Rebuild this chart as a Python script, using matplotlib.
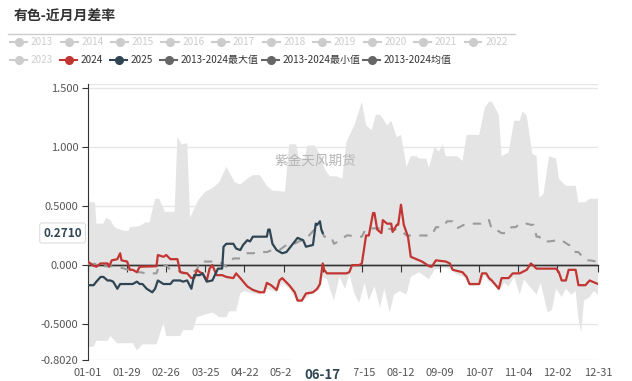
import numpy as np
import matplotlib
matplotlib.use("Agg")
import matplotlib.pyplot as plt
from matplotlib.lines import Line2D
import matplotlib.transforms as mtransforms

plt.rcParams['font.family'] = ['Noto Sans CJK SC', 'DejaVu Sans']

# ---------------- data ----------------
title = "有色-近月月差率"
watermark = "紫金天风期货"

tick_days = [0, 28, 56, 84, 112, 140, 168, 196, 224, 252, 280, 308, 336, 365]
tick_labels = ["01-01", "01-29", "02-26", "03-25", "04-22", "05-20", "06-17",
               "07-15", "08-12", "09-09", "10-07", "11-04", "12-02", "12-31"]
highlight_label = "06-17"
y_ticks = [-0.802, -0.5, 0.0, 0.5, 1.0, 1.5]
y_tick_labels = ["-0.8020", "-0.5000", "0.000", "0.5000", "1.000", "1.500"]
last_value_label = "0.2710"
last_value = 0.271

legend_inactive = ["2013", "2014", "2015", "2016", "2017", "2018", "2019",
                   "2020", "2021", "2022", "2023"]
legend_active = ["2024", "2025", "2013-2024最大值", "2013-2024最小值", "2013-2024均值"]

max_days = [0, 1, 5, 6, 11, 13, 16, 19, 25, 29, 30, 37, 41, 44, 48, 51, 55, 62, 64, 67,
            71, 73, 79, 84, 89, 94, 99, 105, 109, 114, 118, 123, 128, 132, 141, 144, 149, 151, 155, 157,
            162, 167, 169, 173, 178, 182, 185, 191, 196, 199, 203, 206, 209, 211, 214, 217, 221, 224, 228, 231,
            235, 237, 242, 244, 248, 251, 254, 256, 264, 268, 271, 280, 284, 287, 289, 294, 296, 301, 305, 309,
            311, 314, 318, 321, 323, 326, 330, 335, 337, 342, 349, 351, 356, 359, 365]
max_vals = [0.75, 0.53, 0.53, 0.35, 0.35, 0.40, 0.38, 0.32, 0.29, 0.29,
            0.32, 0.33, 0.36, 0.36, 0.56, 0.56, 0.45, 0.45, 1.08, 1.02,
            1.03, 0.40, 0.55, 0.62, 0.65, 0.70, 0.83, 0.70, 0.68, 0.73,
            0.76, 0.76, 0.67, 0.63, 0.62, 1.02, 1.02, 0.90, 0.90, 1.01,
            1.01, 0.92, 0.82, 0.75, 0.75, 0.73, 1.04, 1.19, 1.38, 1.18,
            1.14, 1.27, 1.27, 1.24, 1.18, 1.22, 1.08, 1.10, 0.83, 0.92,
            0.92, 0.90, 0.90, 0.82, 1.00, 0.96, 1.02, 0.92, 0.92, 0.88,
            1.10, 1.10, 1.33, 1.38, 1.38, 1.27, 0.92, 0.95, 1.22, 1.22,
            1.30, 1.26, 0.94, 0.92, 0.57, 0.60, 0.92, 0.90, 0.73, 0.67,
            0.67, 0.53, 0.53, 0.56, 0.56]

min_days = [0, 4, 6, 14, 16, 21, 32, 35, 39, 49, 54, 56, 66, 68, 75, 78, 89, 94, 99, 101,
            106, 109, 112, 118, 123, 128, 135, 139, 144, 150, 153, 159, 164, 166, 168, 171, 176, 180, 184, 187,
            191, 194, 198, 201, 205, 209, 212, 216, 219, 223, 228, 231, 237, 244, 248, 255, 260, 264, 269, 274,
            280, 284, 287, 291, 294, 298, 301, 305, 309, 312, 316, 321, 324, 329, 332, 335, 339, 342, 346, 349,
            351, 353, 355, 359, 362, 365]
min_vals = [-0.69, -0.69, -0.64, -0.64, -0.60, -0.66, -0.66, -0.72, -0.67, -0.67,
            -0.49, -0.60, -0.60, -0.55, -0.55, -0.44, -0.40, -0.44, -0.44, -0.39,
            -0.39, -0.24, -0.22, -0.24, -0.25, -0.20, -0.23, -0.15, -0.20, -0.31,
            -0.31, -0.25, -0.22, -0.20, -0.10, -0.12, -0.30, -0.10, -0.20, -0.08,
            -0.25, -0.32, -0.15, -0.30, -0.18, -0.36, -0.20, -0.40, -0.25, -0.22,
            -0.25, -0.10, -0.06, -0.12, -0.04, -0.02, -0.04, -0.08, -0.10, -0.18,
            -0.17, -0.09, -0.14, -0.17, -0.22, -0.15, -0.18, -0.10, -0.25, -0.12,
            -0.18, -0.25, -0.15, -0.40, -0.38, -0.20, -0.27, -0.20, -0.25, -0.22,
            -0.45, -0.57, -0.30, -0.27, -0.22, -0.25]

mean_days = [0, 6, 9, 20, 29, 32, 37, 42, 49, 51, 56, 58, 64, 68, 73, 78, 80, 94, 99, 104,
             109, 114, 118, 123, 128, 132, 137, 142, 146, 151, 156, 162, 167, 169, 174, 176, 181, 185, 187, 192,
             196, 199, 204, 209, 214, 218, 223, 228, 235, 237, 246, 249, 254, 257, 261, 264, 269, 271, 276, 281,
             284, 287, 289, 292, 296, 300, 303, 306, 309, 314, 317, 319, 321, 323, 325, 330, 336, 339, 344, 346,
             349, 351, 356, 359, 364]
mean_vals = [0.01, 0.01, -0.01, -0.01, -0.04, -0.06, -0.06, -0.07, -0.07, 0.0,
             0.0, -0.03, -0.04, -0.07, -0.07, -0.04, 0.03, 0.03, -0.014, 0.056,
             0.056, 0.10, 0.10, 0.11, 0.11, 0.127, 0.127, 0.17, 0.17, 0.20,
             0.22, 0.30, 0.30, 0.24, 0.24, 0.18, 0.21, 0.25, 0.25, 0.24,
             0.24, 0.31, 0.31, 0.31, 0.31, 0.30, 0.30, 0.25, 0.25, 0.25,
             0.25, 0.32, 0.32, 0.37, 0.37, 0.31, 0.34, 0.34, 0.35, 0.35,
             0.38, 0.38, 0.30, 0.30, 0.27, 0.27, 0.32, 0.32, 0.35, 0.35,
             0.34, 0.34, 0.24, 0.24, 0.20, 0.20, 0.21, 0.21, 0.17, 0.17,
             0.11, 0.11, 0.04, 0.04, 0.03]

y2024_days = [0, 3, 6, 9, 14, 15, 17, 21, 23, 24, 28, 30, 32, 35, 37, 49, 50, 54, 56, 59,
              64, 66, 71, 74, 76, 78, 80, 82, 85, 87, 89, 92, 96, 99, 104, 106, 109, 114, 118, 123,
              126, 128, 131, 135, 137, 139, 144, 148, 150, 153, 156, 161, 164, 166, 168, 169, 171, 185, 187, 189,
              194, 196, 199, 201, 204, 205, 207, 210, 211, 214, 217, 218, 221, 222, 224, 226, 229, 231, 235, 239,
              243, 244, 246, 249, 256, 259, 261, 268, 271, 273, 280, 282, 285, 287, 289, 294, 296, 301, 304, 309,
              314, 317, 321, 335, 337, 339, 342, 344, 349, 351, 356, 359, 365]
y2024_vals = [0.03, 0.0, -0.014, 0.014, 0.014, -0.014, 0.04, 0.05, 0.10, 0.04,
              0.03, -0.04, -0.04, -0.06, -0.014, -0.01, 0.085, 0.07, 0.085, 0.05,
              0.05, -0.06, -0.07, -0.11, -0.11, -0.04, -0.06, -0.07, -0.13, -0.03,
              0.0, -0.085, -0.085, -0.10, -0.11, -0.07, -0.11, -0.18, -0.21, -0.23,
              -0.23, -0.15, -0.17, -0.21, -0.13, -0.11, -0.17, -0.23, -0.30, -0.30,
              -0.24, -0.23, -0.20, -0.16, 0.014, -0.04, -0.07, -0.07, -0.06, 0.0,
              0.0, 0.014, 0.25, 0.25, 0.44, 0.44, 0.30, 0.27, 0.38, 0.35,
              0.35, 0.28, 0.34, 0.34, 0.51, 0.34, 0.24, 0.07, 0.05, 0.03,
              0.0, -0.01, -0.014, 0.04, 0.03, 0.014, -0.04, -0.06, -0.10, -0.16,
              -0.16, -0.07, -0.07, -0.11, -0.13, -0.20, -0.11, -0.11, -0.07, -0.07,
              -0.04, 0.014, -0.03, -0.03, -0.06, -0.13, -0.13, -0.04, -0.04, -0.17,
              -0.17, -0.13, -0.16]

y2025_days = [0, 4, 6, 9, 11, 14, 16, 18, 21, 23, 32, 35, 37, 39, 42, 46, 48, 50, 54, 59,
              61, 66, 68, 71, 74, 76, 80, 82, 85, 89, 93, 96, 97, 99, 104, 106, 109, 111, 114, 116,
              118, 128, 129, 130, 132, 135, 139, 142, 146, 150, 154, 156, 161, 163, 164, 166, 167, 168]
y2025_vals = [-0.17, -0.17, -0.14, -0.10, -0.10, -0.13, -0.13, -0.14, -0.20, -0.16,
              -0.16, -0.14, -0.16, -0.16, -0.20, -0.23, -0.20, -0.13, -0.16, -0.16,
              -0.13, -0.13, -0.14, -0.13, -0.20, -0.085, -0.085, -0.07, -0.14, -0.13,
              -0.03, -0.03, 0.155, 0.18, 0.18, 0.14, 0.127, 0.17, 0.21, 0.20,
              0.24, 0.24, 0.30, 0.30, 0.18, 0.127, 0.10, 0.11, 0.17, 0.23,
              0.21, 0.155, 0.17, 0.35, 0.34, 0.37, 0.30, 0.271]

# ---------------- style ----------------
C2024 = "#c23531"
C2025 = "#2f4554"
BAND = "#e4e4e4"
MEAN = "#9a9a9a"
INACTIVE = "#cccccc"
STAT = "#666666"
TXT = "#333333"
AX = "#333333"

W, H = 632, 381
fig = plt.figure(figsize=(W / 100, H / 100), dpi=100)
L, R, T, B = 88, 598, 84, 360
ax = fig.add_axes([L / W, 1 - B / H, (R - L) / W, (B - T) / H])

ax.set_xlim(0, 365)
ax.set_ylim(-0.802, 1.53)

# grid
for yv in y_ticks + [1.53]:
    if yv == 0.0:
        continue
    ax.axhline(yv, color="#e6e6e6", lw=1, zorder=0.5)

# band
band_x = list(max_days) + list(min_days[::-1])
band_y = list(max_vals) + list(min_vals[::-1])
ax.fill(band_x, band_y, color=BAND, lw=0, zorder=1)

# zero line
ax.axhline(0, color=AX, lw=1, zorder=2)

# lines
ax.plot(mean_days, mean_vals, color=MEAN, lw=1.5, dashes=(4, 4), zorder=3)
ax.plot(y2024_days, y2024_vals, color=C2024, lw=1.6, zorder=4)
ax.plot(y2025_days, y2025_vals, color=C2025, lw=1.6, zorder=5)

# spines
for s in ["right", "bottom"]:
    ax.spines[s].set_visible(False)
ax.spines["left"].set_color(AX)
ax.spines["top"].set_position(("data", 0))

# y ticks
ax.set_yticks(y_ticks)
ax.set_yticklabels(y_tick_labels)
ax.tick_params(axis="y", direction="out", length=4, color=AX, labelsize=8,
               labelcolor="#555555", pad=3)

# x ticks: marks on zero line (top axis at data 0, pointing down), labels at bottom
ax.set_xticks(tick_days)
labels = [("" if lab == highlight_label else lab) for lab in tick_labels]
ax.set_xticklabels(labels)
ax.tick_params(axis="x", top=True, bottom=False, direction="in", length=5,
               color=AX, labelsize=8, labelcolor="#555555", pad=6,
               labeltop=False, labelbottom=True)
ax.spines["top"].set_visible(True)
ax.spines["top"].set_color(AX)
ax.spines["top"].set_linewidth(1)

# highlighted x label (its box hides the neighbouring labels' edges)
trans_x = mtransforms.blended_transform_factory(ax.transData, ax.transAxes)
hi_day = tick_days[tick_labels.index(highlight_label)]
ax.text(hi_day, -0.055, highlight_label, transform=trans_x, ha="center", va="center",
        fontsize=9.5, fontweight="bold", color=C2025, zorder=20, clip_on=False,
        bbox=dict(boxstyle="square,pad=1.0", facecolor="white", edgecolor="none"))

# last value label on y axis
trans_y = mtransforms.blended_transform_factory(ax.transAxes, ax.transData)
ax.text(-0.012, last_value, last_value_label, transform=trans_y, ha="right", va="center",
        fontsize=8.5, fontweight="bold", color=C2025, zorder=20, clip_on=False,
        bbox=dict(boxstyle="round,pad=0.3,rounding_size=0.2", facecolor="white",
                  edgecolor="#dddddd", lw=0.8))

# watermark (centre of plot area)
ax.text(0.446, 0.72, watermark, transform=ax.transAxes, ha="center", va="center",
        fontsize=9.8, color="#b5b5b5", zorder=6)

# title and separator
fig.text(14 / W, 1 - 17 / H, title, ha="left", va="center", fontsize=10,
         fontweight="bold", color=TXT)
fig.add_artist(Line2D([8 / W, 515 / W], [1 - 33.5 / H, 1 - 33.5 / H],
                      color="#cccccc", lw=1))

# legend (manual)
def legend_item(x0, y, label, color, tcolor):
    yf = 1 - y / H
    fig.add_artist(Line2D([x0 / W, (x0 + 17) / W], [yf, yf], color=color, lw=1.5))
    fig.add_artist(Line2D([(x0 + 8.5) / W], [yf], marker="o", markersize=5.5,
                          color=color, markeredgecolor=color, lw=0))
    fig.text((x0 + 21) / W, yf, label, ha="left", va="center", fontsize=7.2,
             color=tcolor)

row1_y, row2_y = 42, 60
for i, lab in enumerate(legend_inactive[:10]):
    legend_item(10 + 50.5 * i, row1_y, lab, INACTIVE, INACTIVE)
row2_x = [10, 60, 110, 160, 262, 363]
row2_labels = [legend_inactive[10]] + legend_active
row2_colors = [INACTIVE, C2024, C2025, STAT, STAT, STAT]
row2_tcolors = [INACTIVE, TXT, TXT, TXT, TXT, TXT]
for x0, lab, c, tc in zip(row2_x, row2_labels, row2_colors, row2_tcolors):
    legend_item(x0, row2_y, lab, c, tc)

fig.savefig("out.png", dpi=100)
